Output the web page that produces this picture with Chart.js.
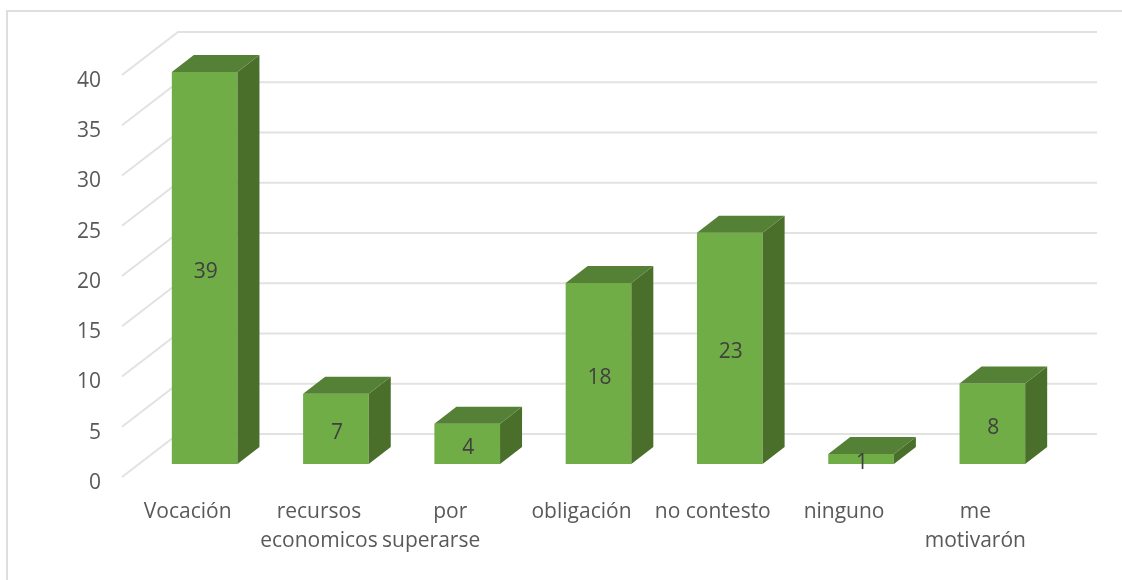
<!DOCTYPE html>
<html lang="es">
<head>
<meta charset="utf-8">
<title>Chart</title>
<script src="https://cdn.jsdelivr.net/npm/chart.js@4/dist/chart.umd.min.js"></script>
<style>
    html, body { margin: 0; padding: 0; background: #fff; overflow: hidden; }
    #frame { position: absolute; left: 6px; top: 10px; right: 0; bottom: 0; border-left: 2px solid #dedede; border-top: 2px solid #dedede; }
    #chart { position: absolute; left: 0; top: 0; }
</style>
</head>
<body>
<div id="frame"></div>
<canvas id="chart" width="1122" height="580"></canvas>
<script>
// ── Data ─────────────────────────────────────────────────────────────
// trailing spaces: the original wraps this line off-centre to the left
const categories = ['Vocación', ['recursos', 'economicos'], ['por', 'superarse       '], 'obligación', 'no contesto', 'ninguno', ['me', 'motivarón']];
const values = [39, 7, 4, 18, 23, 1, 8];
const yMax = 40;
const yStep = 5;

// ── Look ─────────────────────────────────────────────────────────────
const FONT = '"Open Sans", sans-serif';
const wall = { dx: 56, dy: -43 };     // how far the back wall sits behind the axis
const barShift = { dx: 17, dy: -13 }; // bars stand part way back on the floor
const barDepth = { dx: 22, dy: -17 };
const colors = { front: '#70ad47', side: '#4a6f2b', top: '#558136', grid: '#e2e2e2', text: '#595959', value: '#404040' };

// ── 3D plugin ────────────────────────────────────────────────────────
const fake3d = {
    id: 'fake3d',
    beforeDatasetsDraw(chart) {
        const { ctx, chartArea, scales: { y } } = chart;
        ctx.save();
        ctx.strokeStyle = colors.grid;
        ctx.lineWidth = 2;
        y.ticks.forEach(t => {
            const py = y.getPixelForValue(t.value);
            ctx.beginPath();
            ctx.moveTo(chartArea.left, py);
            ctx.lineTo(chartArea.left + wall.dx, py + wall.dy);
            ctx.lineTo(chartArea.right + wall.dx, py + wall.dy);
            ctx.stroke();
        });
        ctx.restore();
    },
    beforeDatasetDraw(chart) {
        chart.ctx.save();
        chart.ctx.translate(barShift.dx, barShift.dy);
    },
    afterDatasetDraw(chart, args) {
        const ctx = chart.ctx;
        args.meta.data.forEach(bar => {
            const { x, y, base, width } = bar.getProps(['x', 'y', 'base', 'width'], true);
            const l = x - width / 2, r = x + width / 2;
            ctx.fillStyle = colors.side;
            ctx.beginPath();
            ctx.moveTo(r, y);
            ctx.lineTo(r + barDepth.dx, y + barDepth.dy);
            ctx.lineTo(r + barDepth.dx, base + barDepth.dy);
            ctx.lineTo(r, base);
            ctx.closePath();
            ctx.fill();
            ctx.fillStyle = colors.top;
            ctx.beginPath();
            ctx.moveTo(l, y);
            ctx.lineTo(l + barDepth.dx, y + barDepth.dy);
            ctx.lineTo(r + barDepth.dx, y + barDepth.dy);
            ctx.lineTo(r, y);
            ctx.closePath();
            ctx.fill();
        });
        // value labels, centred on the front face
        ctx.fillStyle = colors.value;
        ctx.font = `21px ${FONT}`;
        ctx.textAlign = 'center';
        ctx.textBaseline = 'middle';
        args.meta.data.forEach((bar, i) => {
            const { x, y, base } = bar.getProps(['x', 'y', 'base'], true);
            ctx.fillText(values[i], x + 1, (y + base) / 2 + 4);
        });
        ctx.restore();
    }
};

// ── Chart ────────────────────────────────────────────────────────────
new Chart(document.getElementById('chart').getContext('2d'), {
    type: 'bar',
    data: {
        labels: categories,
        datasets: [{
            data: values,
            backgroundColor: colors.front,
            borderWidth: 0,
            categoryPercentage: 1,
            barPercentage: 0.5,
            clip: false
        }]
    },
    options: {
        responsive: false,
        animation: false,
        layout: { padding: { top: 75, right: 81, left: 0, bottom: 0 } },
        plugins: { legend: { display: false }, tooltip: { enabled: false } },
        scales: {
            x: {
                grid: { display: false },
                border: { display: false },
                ticks: {
                    color: colors.text,
                    font: { family: FONT, size: 21, lineHeight: 1.38 },
                    autoSkip: false,
                    maxRotation: 0,
                    minRotation: 0,
                    padding: 13
                },
                afterFit: s => { s.height = 103; }
            },
            y: {
                min: 0,
                max: yMax,
                grid: { display: false },
                border: { display: false },
                ticks: {
                    stepSize: yStep,
                    color: colors.text,
                    font: { family: FONT, size: 21 },
                    padding: 13,
                    labelOffset: 6
                },
                afterFit: s => { s.width = 122; }
            }
        }
    },
    plugins: [fake3d]
});
</script>
</body>
</html>
